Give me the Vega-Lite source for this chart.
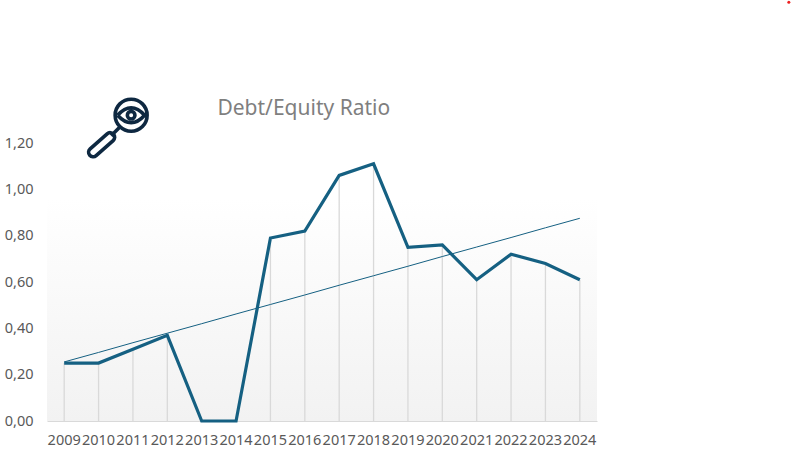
{
"$schema":"https://vega.github.io/schema/vega-lite/v6.json",
"width":550,"height":278,
"autosize":{"type":"none"},
"padding":{"left":47,"top":143,"right":195,"bottom":33},
"background":"white",
"config":{"view":{"stroke":null},"font":"Noto Sans"},
"data":{"values":[
{"year":"2009","ratio":0.25,"trend":0.255},
{"year":"2010","ratio":0.25,"trend":0.296},
{"year":"2011","ratio":0.31,"trend":0.338},
{"year":"2012","ratio":0.37,"trend":0.379},
{"year":"2013","ratio":0.0,"trend":0.420},
{"year":"2014","ratio":0.0,"trend":0.462},
{"year":"2015","ratio":0.79,"trend":0.503},
{"year":"2016","ratio":0.82,"trend":0.544},
{"year":"2017","ratio":1.06,"trend":0.586},
{"year":"2018","ratio":1.11,"trend":0.627},
{"year":"2019","ratio":0.75,"trend":0.668},
{"year":"2020","ratio":0.76,"trend":0.710},
{"year":"2021","ratio":0.61,"trend":0.751},
{"year":"2022","ratio":0.72,"trend":0.792},
{"year":"2023","ratio":0.68,"trend":0.834},
{"year":"2024","ratio":0.61,"trend":0.875}
]},
"encoding":{
"x":{"field":"year","type":"nominal","scale":{"type":"band","paddingInner":0,"paddingOuter":0},"axis":{"title":null,"labelAngle":0,"labelFontSize":14.5,"labelColor":"#595959","labelOverlap":false,"ticks":false,"domain":true,"domainColor":"#d9d9d9","grid":false,"labelPadding":12,"labelFont":"Noto Sans"}}
},
"layer":[
{"data":{"values":[{}]},"mark":{"type":"rect","color":{"gradient":"linear","x1":0,"y1":0,"x2":0,"y2":1,"stops":[{"offset":0,"color":"#ffffff"},{"offset":0.2,"color":"#ffffff"},{"offset":1,"color":"#f2f2f2"}]}},
 "encoding":{"x":{},"y":{"datum":1.2,"type":"quantitative"},"y2":{"datum":0}}},
{"mark":{"type":"rule","color":"#d9d9d9","strokeWidth":1.3},"encoding":{"y":{"field":"ratio","type":"quantitative"},"y2":{"datum":0}}},
{"mark":{"type":"line","color":"#156082","strokeWidth":1},"encoding":{"y":{"field":"trend","type":"quantitative"}}},
{"mark":{"type":"line","color":"#156082","strokeWidth":3.2,"strokeJoin":"miter"},"encoding":{"y":{"field":"ratio","type":"quantitative","scale":{"domain":[0,1.2]},"axis":{"title":null,"values":[0,0.2,0.4,0.6,0.8,1.0,1.2],"format":".2f","labelExpr":"replace(datum.label,'.',',')","labelFontSize":14.5,"labelColor":"#595959","ticks":false,"domain":false,"grid":false,"labelPadding":14,"labelFont":"Noto Sans"}}}},
{"data":{"values":[{}]},"mark":{"type":"text","text":"Debt/Equity Ratio","font":"Noto Sans","fontSize":21,"fontWeight":"normal","color":"#7f7f7f","align":"center","baseline":"middle","xOffset":-1},
 "encoding":{"x":{"datum":"2016"},"y":{"datum":1.346,"type":"quantitative"}}},
{"data":{"values":[{}]},"mark":{"type":"point","filled":false,"opacity":1,"stroke":"#0e2841","strokeWidth":3.6,"size":4,"xOffset":-1.8,"shape":"M 0 -16 A 16 16 0 1 1 0 16 A 16 16 0 1 1 0 -16 M -13.5 0 Q 0 -15 13.5 0 Q 0 15 -13.5 0 M 0 -3.8 A 3.8 3.8 0 1 1 0 3.8 A 3.8 3.8 0 1 1 0 -3.8 M -11.5 12 L -20 20.5 M -24 18.6 L -41 33.6 A 4.5 4.5 0 0 0 -35 40.4 L -18 25.4 A 4.5 4.5 0 0 0 -24 18.6"},
 "encoding":{"x":{"datum":"2011"},"y":{"datum":1.32,"type":"quantitative"}}},
{"data":{"values":[{}]},"mark":{"type":"point","filled":true,"opacity":1,"fill":"#ee2020","stroke":null,"size":9,"xOffset":209},
 "encoding":{"x":{"datum":"2024"},"y":{"datum":1.808,"type":"quantitative"}}}
]
}
